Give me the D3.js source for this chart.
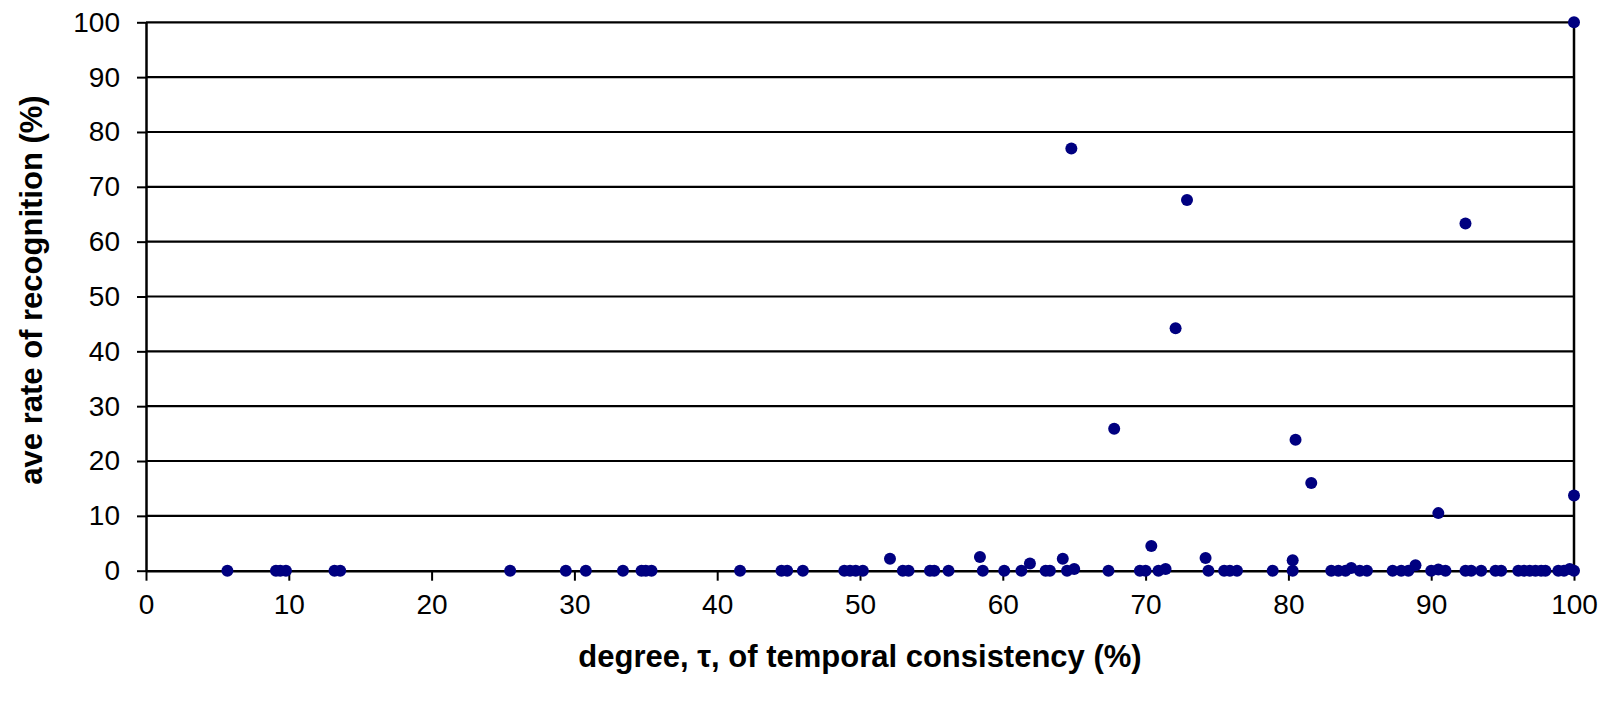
<!DOCTYPE html>
<html>
<head>
<meta charset="utf-8">
<script src="https://cdn.jsdelivr.net/npm/d3@7"></script>
<style>
  body { margin: 0; background: #fff; }
  text { font-family: "Liberation Sans", Arial, sans-serif; }
</style>
</head>
<body>
<div id="main"></div>
<script>
// data: x = degree of temporal consistency, y = ave rate of recognition
const consistency = [5.7, 9.1, 9.4, 9.8, 13.2, 13.6, 25.5, 29.4, 30.8, 33.4, 34.7, 35.0, 35.4, 41.6,
  44.5, 44.9, 46.0, 48.9, 49.3, 49.7, 50.2, 52.1, 53.0, 53.4, 54.9, 55.2, 56.2, 58.4, 58.6, 60.1,
  61.3, 61.9, 63.0, 63.3, 64.2, 64.5, 64.8, 65.0, 67.4, 67.8, 69.6, 70.0, 70.4, 70.9, 71.4, 72.1,
  72.9, 74.2, 74.4, 75.5, 75.9, 76.4, 78.9, 80.3, 80.3, 80.5, 81.6, 83.0, 83.5, 84.0, 84.4, 85.0,
  85.5, 87.3, 87.9, 88.4, 88.9, 90.0, 90.5, 90.5, 91.0, 92.4, 92.4, 92.8, 93.5, 94.5, 94.9, 96.1,
  96.5, 96.9, 97.3, 97.7, 98.0, 98.9, 99.3, 99.7, 100, 100, 100];
const recognition = [0, 0, 0, 0, 0, 0, 0, 0, 0, 0, 0, 0, 0, 0,
  0, 0, 0, 0, 0, 0, 0, 2.2, 0, 0, 0, 0, 0, 2.5, 0, 0,
  0, 1.3, 0, 0, 2.2, 0, 77, 0.3, 0, 25.9, 0, 0, 4.5, 0, 0.3, 44.2,
  67.6, 2.3, 0, 0, 0, 0, 0, 1.9, 0, 23.9, 16, 0, 0, 0, 0.5, 0,
  0, 0, 0, 0, 1.0, 0, 10.5, 0.2, 0, 63.3, 0, 0, 0, 0, 0, 0,
  0, 0, 0, 0, 0, 0, 0, 0.3, 0, 13.7, 100];
const xTicks = [0, 10, 20, 30, 40, 50, 60, 70, 80, 90, 100];
const yTicks = [0, 10, 20, 30, 40, 50, 60, 70, 80, 90, 100];
const xTitle = "degree, \u03c4, of temporal consistency (%)";
const yTitle = "ave rate of recognition (%)";

const width = 1618, height = 703;
const plotLeft = 146, plotRight = 1574, plotTop = 22.3, plotBottom = 570.7;

const svg = d3.select('#main').append('svg')
  .attr('width', width).attr('height', height);

const xScale = d3.scaleLinear().domain([0, 100]).range([plotLeft, plotRight]);
const yScale = d3.scaleLinear().domain([0, 100]).range([plotBottom, plotTop]);

// gridlines
svg.append('g').selectAll('line').data(yTicks.filter(d => d > 0))
  .enter().append('line')
  .attr('x1', plotLeft).attr('x2', plotRight)
  .attr('y1', d => yScale(d)).attr('y2', d => yScale(d))
  .attr('stroke', '#000').attr('stroke-width', 2.2);

// right border
svg.append('line')
  .attr('x1', plotRight).attr('x2', plotRight).attr('y1', plotTop).attr('y2', plotBottom)
  .attr('stroke', '#000').attr('stroke-width', 2.5);

// axes
const xAxis = d3.axisBottom(xScale).tickValues(xTicks).tickSize(10).tickPadding(13).tickSizeOuter(0);
const yAxis = d3.axisLeft(yScale).tickValues(yTicks).tickSize(9).tickPadding(17).tickSizeOuter(0);

const gx = svg.append('g').attr('transform', 'translate(0,' + plotBottom + ')').call(xAxis);
const gy = svg.append('g').attr('transform', 'translate(' + plotLeft + ',0)').call(yAxis);

[gx, gy].forEach(g => {
  g.select('.domain').attr('stroke', '#000').attr('stroke-width', 2.5);
  g.selectAll('.tick line').attr('stroke', '#000').attr('stroke-width', 2);
  g.selectAll('.tick text').attr('fill', '#000')
    .style('font-size', '28px').style('font-family', '"Liberation Sans", Arial, sans-serif');
});

// points
svg.append('g').selectAll('circle').data(consistency)
  .enter().append('circle')
  .attr('cx', d => xScale(d))
  .attr('cy', (d, i) => yScale(recognition[i]))
  .attr('r', 6)
  .attr('fill', '#000080');

// axis titles
svg.append('text')
  .attr('x', (plotLeft + plotRight) / 2).attr('y', 667)
  .attr('text-anchor', 'middle')
  .style('font-size', '31px').style('font-weight', 'bold')
  .text(xTitle);

svg.append('text')
  .attr('transform', 'translate(42,' + 290 + ') rotate(-90)')
  .attr('text-anchor', 'middle')
  .style('font-size', '31px').style('font-weight', 'bold')
  .text(yTitle);
</script>
</body>
</html>
